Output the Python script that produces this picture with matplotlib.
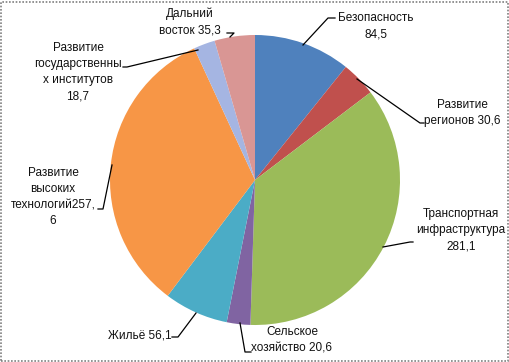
import matplotlib
matplotlib.use('Agg')
import matplotlib.pyplot as plt
from matplotlib.patches import Rectangle

plt.rcParams['font.family'] = ['Liberation Sans', 'DejaVu Sans']

labels = ['Безопасность\n84,5', 'Развитие\nрегионов 30,6', 'Транспортная\nинфраструктура\n281,1',
          'Сельское\nхозяйство 20,6', 'Жильё 56,1', 'Развитие\nвысоких\nтехнологий257,\n6',
          'Развитие\nгосударственны\nх институтов\n18,7', 'Дальний\nвосток 35,3']
values = [84.5, 30.6, 281.1, 20.6, 56.1, 257.6, 18.7, 35.3]
colors = ['#4F81BD', '#C0504D', '#9BBB59', '#8064A2', '#4BACC6', '#F79646', '#A5B5E2', '#D99694']

# label text centres and leader line points (pixels from top-left)
text_pos = [(376, 26), (462, 113), (461, 230), (292, 340), (140, 335), (53, 197), (78, 72), (190, 22)]
line_pts = [
    [(303, 45), (328, 18), (335, 18)],
    [(357, 79), (420, 123), (424, 123)],
    [(383, 247), (410, 242), (413, 242)],
    [(240, 323), (245, 352), (251, 352)],
    [(196, 313), (178, 337), (172, 337)],
    [(112, 165), (103, 209), (98, 209)],
    [(198, 50), (127, 67), (123, 67)],
    [(230, 37), (234, 33), (227, 33)],
]

W, H = 510, 362
fig = plt.figure(figsize=(W / 100, H / 100), dpi=100)
ax = fig.add_axes([(255 - 145) / W, (H - 180 - 145) / H, 290 / W, 290 / H])
ax.pie(values, colors=colors, startangle=90, counterclock=False, radius=1,
       wedgeprops=dict(linewidth=0))
ax.set_xlim(-1, 1)
ax.set_ylim(-1, 1)
ax.set_aspect('auto')

for lab, (tx, ty) in zip(labels, text_pos):
    fig.text(tx / W, 1 - ty / H, lab, ha='center', va='center', fontsize=8.5,
             linespacing=1.45, color='#111111')

for pts in line_pts:
    fig.add_artist(plt.Line2D([p[0] / W for p in pts], [1 - p[1] / H for p in pts],
                              color='black', lw=0.9, transform=fig.transFigure))

fig.add_artist(Rectangle((1 / W, 1 / H), (W - 3) / W, (H - 3) / H, transform=fig.transFigure,
                         fill=False, edgecolor='#808080', lw=1.2, linestyle=(0, (1, 1))))

fig.savefig('out.png', dpi=100)
